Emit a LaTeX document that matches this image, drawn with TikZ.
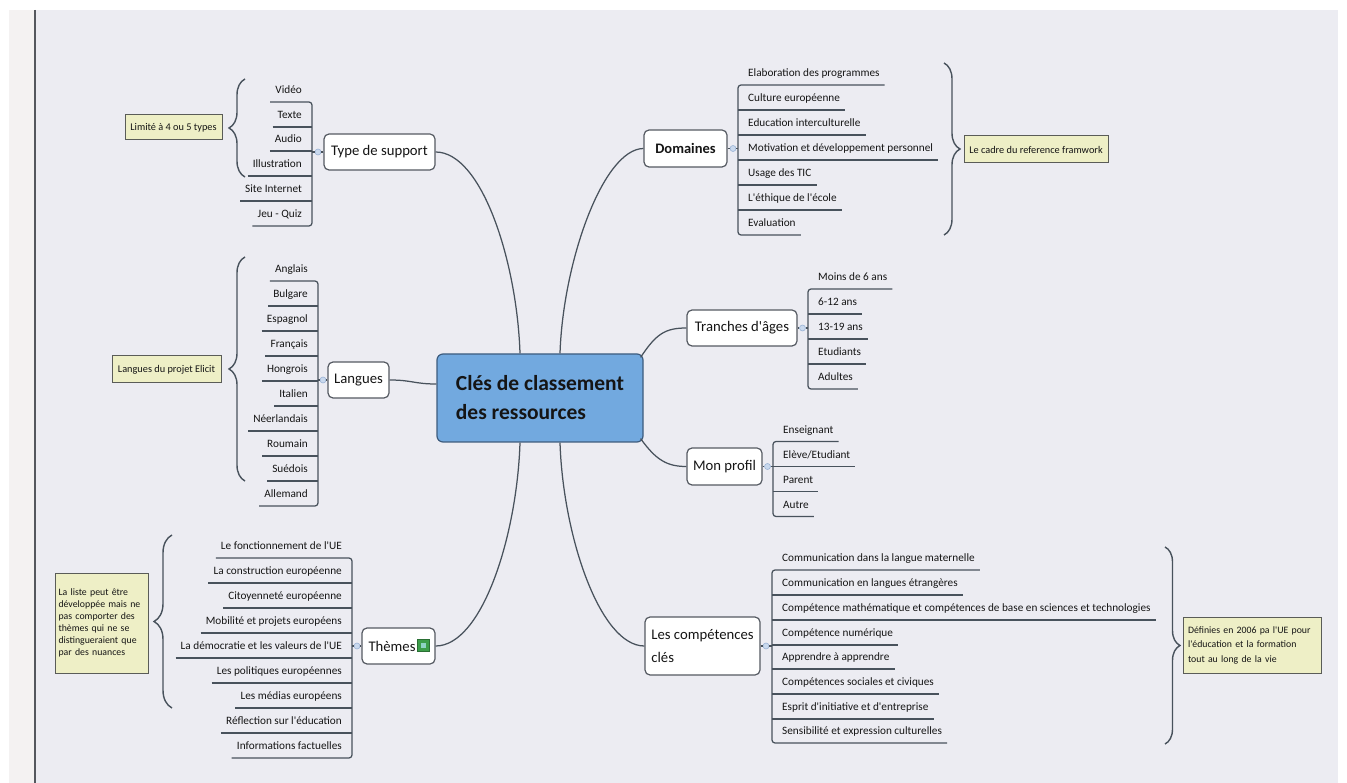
\documentclass[tikz,border=0pt]{standalone}
\usepackage{fontspec}
\setmainfont{Carlito}[Ligatures=TeXOff]
\usetikzlibrary{decorations.pathreplacing}
\definecolor{bgc}{HTML}{ECECF2}
\definecolor{stripc}{HTML}{F4F2F2}
\definecolor{edgec}{HTML}{55585E}
\definecolor{linec}{HTML}{48525C}
\definecolor{boxc}{HTML}{555A62}
\definecolor{ctrfill}{HTML}{72A9DF}
\definecolor{ctrdraw}{HTML}{3D5C7E}
\definecolor{notef}{HTML}{EEEFC6}
\definecolor{noted}{HTML}{5A5C58}
\definecolor{knobf}{HTML}{C9D9EE}
\definecolor{knobd}{HTML}{9AB3D5}
\definecolor{txtc}{HTML}{151515}
\definecolor{icong}{HTML}{3C9E4A}
\definecolor{iconl}{HTML}{8FD3C4}
\begin{document}
\begin{tikzpicture}[x=1pt,y=-1pt,
  conn/.style={draw=linec, line width=1.25pt},
  branch/.style={draw=boxc, fill=white, rounded corners=5pt, line width=1.2pt, inner sep=0pt, text=txtc, font=\fontsize{14.7}{19}\selectfont},
  ctrbox/.style={draw=ctrdraw, fill=ctrfill, rounded corners=6pt, line width=1.2pt, inner sep=0pt, text=txtc, align=left, font=\bfseries\fontsize{21.5}{29}\selectfont},
  itemL/.style={anchor=south east, inner xsep=5pt, inner ysep=5pt, text height=8pt, text depth=3pt, text=txtc, font=\fontsize{11.25}{13}\selectfont},
  itemR/.style={anchor=south west, inner xsep=5pt, inner ysep=5pt, text height=8pt, text depth=3pt, text=txtc, font=\fontsize{11.25}{13}\selectfont},
  note/.style={draw=noted, fill=notef, line width=1pt, inner sep=0pt, text=txtc, font=\fontsize{10.3}{12}\selectfont},
  knob/.style={circle, draw=knobd, fill=knobf, line width=0.6pt, minimum size=6pt, inner sep=0pt},
  bracec/.style={draw=linec, line width=1.4pt, decorate, decoration={brace, amplitude=16pt}}
]
\useasboundingbox (0,0) rectangle (1347,783);
\fill[white] (0,0) rectangle (1347,783);
\fill[stripc] (9,10) rectangle (35,783);
\fill[bgc] (35,10) rectangle (1338,783);
\draw[edgec, line width=1.2pt] (35,10) -- (35,783);

% central node
\node[ctrbox, minimum width=206pt, minimum height=88pt] (ctr) at (540,398) {Clés de classement\\des ressources};

% branch boxes
\node[branch, minimum width=111pt, minimum height=36pt] (ty) at (379.5,152) {Type de support};
\node[branch, minimum width=61pt, minimum height=36pt] (la) at (358.5,380) {Langues};
\node[branch, minimum width=73pt, minimum height=36pt, text width=60pt, align=left] (th) at (398.5,646) {Thèmes};
\node[branch, minimum width=83pt, minimum height=37pt, font=\bfseries\fontsize{14.5}{19}\selectfont] (do) at (685.5,148.5) {Domaines};
\node[branch, minimum width=110pt, minimum height=36pt] (tr) at (742,328) {Tranches d'âges};
\node[branch, minimum width=75pt, minimum height=37pt] (pr) at (724.5,466.5) {Mon profil};
\node[branch, minimum width=115pt, minimum height=58pt, align=left, font=\fontsize{14.7}{23}\selectfont] (co) at (702.5,646) {Les compétences\\clés};

% icon in Thèmes
\node[draw=icong!70!black, fill=icong, minimum size=12pt, inner sep=0pt, line width=0.5pt] (thi) at (423.5,645.5) {};
\node[fill=iconl, minimum size=5pt, inner sep=0pt] (thii) at (thi) {};

% main connectors
\draw[conn] (ty.east) .. controls (482,152) and (517,262) .. ([xshift=-20pt]ctr.north);
\draw[conn] (do.west) .. controls (603,149) and (563,262) .. ([xshift=20pt]ctr.north);
\draw[conn] (la.east) .. controls (412,380) and (414,384) .. ([yshift=14pt]ctr.west);
\draw[conn] (th.east) .. controls (482,646) and (517,536) .. ([xshift=-20pt]ctr.south);
\draw[conn] (co.west) .. controls (600,646) and (563,536) .. ([xshift=20pt]ctr.south);
\draw[conn] ([shift={(-3pt,-4pt)}]ctr.north east) .. controls (656,334) and (665,328) .. (tr.west);
\draw[conn] ([shift={(-3pt,4pt)}]ctr.south east) .. controls (656,460) and (667,466.5) .. (pr.west);

% ---- Type de support items
\foreach \t/\y [count=\i] in {Vidéo/102,Texte/127,Audio/151,Illustration/176,Site Internet/201,Jeu - Quiz/226}
  \node[itemL] (ty\i) at (307,\y) {\t};
\draw[conn, rounded corners=3pt] (ty1.south west) -- (312,102) -- (312,226) -- (ty6.south west);
\foreach \i/\y in {2/127,3/151,4/176,5/201} \draw[conn] (ty\i.south west) -- (312,\y);
\coordinate (tyJ) at (312,152);
\node[knob] (tyK) at (318,152) {};
\draw[conn] (ty.west) -- (tyK.east);
\draw[conn] (tyK.west) -- (tyJ);

% ---- Langues items
\foreach \t/\y [count=\i] in {Anglais/281,Bulgare/306,Espagnol/331,Français/356,Hongrois/381,Italien/406,Néerlandais/431,Roumain/456,Suédois/481,Allemand/506}
  \node[itemL] (la\i) at (313,\y) {\t};
\draw[conn, rounded corners=3pt] (la1.south west) -- (318,281) -- (318,506) -- (la10.south west);
\foreach \i/\y in {2/306,3/331,4/356,5/381,6/406,7/431,8/456,9/481} \draw[conn] (la\i.south west) -- (318,\y);
\coordinate (laJ) at (318,380);
\node[knob] (laK) at (323,380) {};
\draw[conn] (la.west) -- (laK.east);
\draw[conn] (laK.west) -- (laJ);

% ---- Thèmes items
\foreach \t/\y [count=\i] in {Le fonctionnement de l'UE/558,La construction européenne/583,Citoyenneté européenne/608,Mobilité et projets européens/633,La démocratie et les valeurs de l'UE/658,Les politiques européennes/683,Les médias européens/708,Réflection sur l'éducation/733,Informations factuelles/758}
  \node[itemL] (th\i) at (347,\y) {\t};
\draw[conn, rounded corners=3pt] (th1.south west) -- (352,558) -- (352,758) -- (th9.south west);
\foreach \i/\y in {2/583,3/608,4/633,5/658,6/683,7/708,8/733} \draw[conn] (th\i.south west) -- (352,\y);
\coordinate (thJ) at (352,646);
\node[knob] (thK) at (357,646) {};
\draw[conn] (th.west) -- (thK.east);
\draw[conn] (thK.west) -- (thJ);

% ---- Domaines items
\foreach \t/\y [count=\i] in {Elaboration des programmes/85,Culture européenne/110,Education interculturelle/135,Motivation et développement personnel/160,Usage des TIC/185,L'éthique de l'école/210,Evaluation/235}
  \node[itemR] (do\i) at (743,\y) {\t};
\draw[conn, rounded corners=3pt] (do1.south east) -- (738,85) -- (738,235) -- (do7.south east);
\foreach \i/\y in {2/110,3/135,4/160,5/185,6/210} \draw[conn] (738,\y) -- (do\i.south east);
\coordinate (doJ) at (738,148.5);
\node[knob] (doK) at (733,148.5) {};
\draw[conn] (do.east) -- (doK.west);
\draw[conn] (doK.east) -- (doJ);

% ---- Tranches items
\foreach \t/\y [count=\i] in {Moins de 6 ans/289,6-12 ans/314,13-19 ans/339,Etudiants/364,Adultes/389}
  \node[itemR] (tr\i) at (813,\y) {\t};
\draw[conn, rounded corners=3pt] (tr1.south east) -- (808,289) -- (808,389) -- (tr5.south east);
\foreach \i/\y in {2/314,3/339,4/364} \draw[conn] (808,\y) -- (tr\i.south east);
\coordinate (trJ) at (808,328);
\node[knob] (trK) at (802.5,328) {};
\draw[conn] (tr.east) -- (trK.west);
\draw[conn] (trK.east) -- (trJ);

% ---- Mon profil items
\foreach \t/\y [count=\i] in {Enseignant/441.5,{Elève/Etudiant}/466.5,Parent/491.5,Autre/516.5}
  \node[itemR] (pr\i) at (778,\y) {\t};
\draw[conn, rounded corners=3pt] (pr1.south east) -- (773,441.5) -- (773,516.5) -- (pr4.south east);
\foreach \i/\y in {2/466.5,3/491.5} \draw[conn] (773,\y) -- (pr\i.south east);
\coordinate (prJ) at (773,466.5);
\node[knob] (prK) at (767.5,466.5) {};
\draw[conn] (pr.east) -- (prK.west);
\draw[conn] (prK.east) -- (prJ);

% ---- Compétences items
\foreach \t/\y [count=\i] in {Communication dans la langue maternelle/570,Communication en langues étrangères/595,Compétence mathématique et compétences de base en sciences et technologies/620,Compétence numérique/645,Apprendre à apprendre/669,Compétences sociales et civiques/694,Esprit d'initiative et d'entreprise/719,Sensibilité et expression culturelles/743}
  \node[itemR] (co\i) at (777,\y) {\t};
\draw[conn, rounded corners=3pt] (co1.south east) -- (772,570) -- (772,743) -- (co8.south east);
\foreach \i/\y in {2/595,3/620,4/645,5/669,6/694,7/719} \draw[conn] (772,\y) -- (co\i.south east);
\coordinate (coJ) at (772,646);
\node[knob] (coK) at (766,646) {};
\draw[conn] (co.east) -- (coK.west);
\draw[conn] (coK.east) -- (coJ);

% ---- notes
\node[note, minimum width=97pt, minimum height=25pt] (nty) at (173.5,127.5) {Limité à 4 ou 5 types};
\node[note, minimum width=109pt, minimum height=27pt] (nla) at (166.5,369.5) {Langues du projet Elicit};
\node[note, minimum width=93pt, minimum height=100pt, text width=86pt, align=left, font=\fontsize{9.8}{12}\selectfont] (nth) at (101.5,623) {La liste peut être\\développée mais ne\\pas comporter des\\thèmes qui ne se\\distingueraient que\\par des nuances};
\node[note, minimum width=144pt, minimum height=27pt] (ndo) at (1036,149.5) {Le cadre du reference framwork};
\node[note, minimum width=138pt, minimum height=56pt, text width=128pt, align=left, font=\fontsize{9.8}{14.5}\selectfont] (nco) at (1252,645) {Définies en 2006 pa l'UE pour\\l'éducation et la formation\\tout au long de la vie};

% ---- braces
\draw[bracec] (245,177) -- (245,79);
\draw[bracec] (245,481) -- (245,257);
\draw[bracec, decoration={brace, amplitude=18pt}] (172,708) -- (172,535);
\draw[bracec] (944,63) -- (944,235);
\draw[bracec, decoration={brace, amplitude=15pt}] (1165,547) -- (1165,744);
\end{tikzpicture}
\end{document}
